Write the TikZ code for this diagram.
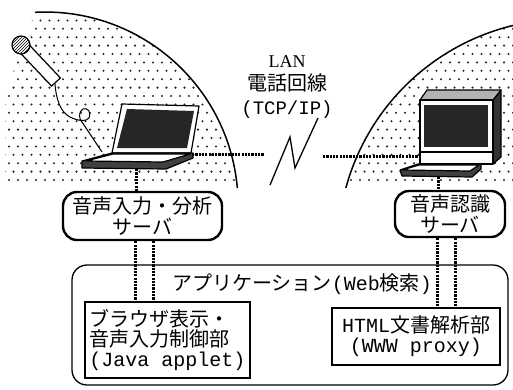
\documentclass[tikz,border=0pt]{standalone}
\usepackage{fontspec}
\setmainfont{Liberation Serif}
\setmonofont{Liberation Mono}
\newfontfamily\jpfont{Noto Sans CJK JP}
\usetikzlibrary{patterns}
\begin{document}
\begin{tikzpicture}[x=1pt,y=-1pt,
  dotline/.style={line width=3pt, dash pattern=on 2.2pt off 1.1pt},
  server/.style={draw, line width=2.4pt, rounded corners=14pt, fill=white,
    align=center, inner sep=0pt, font=\jpfont\fontsize{20}{21}\selectfont},
  module/.style={draw, line width=1.4pt, fill=white, inner sep=0pt,
    align=left, font=\fontsize{20}{20}\selectfont},
  frame/.style={draw, line width=1.3pt, rounded corners=15pt, inner sep=0pt},
  shell/.style={line width=1.2pt, line join=round},
  screen/.style={fill=black!85},
  slab/.style={fill=black!75},
  rim/.style={line width=1.5pt}
]
\useasboundingbox (0,0) rectangle (513,389);
\clip (0,0) rectangle (513,389);

% screen-tone areas (rooms of the two machines)
\begin{scope}
  \clip (5,183) -- (5,95) -- (35,12.3) arc[start angle=-93, end angle=-6.5, radius=193] -- cycle
        (520,23.9) arc[start angle=-101.8, end angle=-163.5, radius=229] -- (520,183) -- cycle;
  \foreach \r in {0,...,21} {
    \foreach \c in {0,...,58} {
      \fill[black!85] ({\c*9+mod(\r,2)*4.5}, {12+\r*8.4}) circle[radius=1.15];
    }
  }
\end{scope}
\draw[rim] (35,12.3) arc[start angle=-93, end angle=-5.05, radius=193];
\draw[rim] (520,23.9) arc[start angle=-101.8, end angle=-164.8, radius=229];

% microphone with cord
\draw[line width=1pt] (55,84) .. controls (56,98) and (60,112) .. (70,117)
  .. controls (78,121) and (86,122) .. (89,118)
  .. controls (92,112) and (87,107) .. (83,109)
  .. controls (78,112) and (79,119) .. (82,122) -- (102,152);
\filldraw[shell, fill=white] (26.4,41.9) -- (60.4,77.9) -- (51.6,86.1) -- (17.6,50.1) -- cycle;
\fill[white] (21,45) circle[radius=9];
\draw[shell, pattern=north east lines] (21,45) circle[radius=9];

% notebook computer
\filldraw[shell, fill=white] (122,104) -- (199,106) -- (191,153) -- (112,153) -- cycle;
\fill[screen] (127,109) -- (194,111) -- (187,148) -- (117,148) -- cycle;
\filldraw[shell, slab] (82,161) -- (112,153) -- (193,153) -- (193,158) -- (166,169) -- (82,168) -- cycle;
\filldraw[shell, fill=white] (86,161) -- (113,154) -- (190,154) -- (163,162) -- cycle;

% desktop computer
\filldraw[shell, fill=black!80] (493,100) -- (501,90) -- (501,157) -- (493,164) -- cycle;
\filldraw[shell, fill=black!30] (420,100) -- (427,90) -- (501,90) -- (493,100) -- cycle;
\filldraw[shell, fill=white] (420,100) rectangle (493,152);
\fill[screen] (424,105) rectangle (488,147);
\filldraw[shell, fill=white] (420,152) rectangle (493,164);
\filldraw[shell, slab] (400,170) -- (418,164) -- (481,164) -- (481,169) -- (472,177) -- (402,176) -- cycle;
\filldraw[shell, fill=white] (402,170) -- (419,165) -- (479,165) -- (470,171) -- cycle;

% network label and line symbol
\node[font=\fontsize{18}{18}\selectfont] (lan) at (287,62) {LAN};
\node[font=\jpfont\fontsize{20}{20}\selectfont] (phone) at (287,83) {電話回線};
\node[font=\ttfamily\fontsize{19}{19}\selectfont] (proto) at (287,110) {(TCP/IP)};
\draw[line width=1.3pt, line join=miter] (270,185) -- (290,137) -- (295,168) -- (318,118);

% servers, application frame and its modules
\node[frame, minimum width=436pt, minimum height=120pt] (app) at (290,325) {};
\node[font=\fontsize{20}{20}\selectfont] (applabel) at (302,284)
  {{\jpfont アプリケーション}{\ttfamily(Web}{\jpfont 検索}{\ttfamily)}};
\node[server, minimum width=159pt, minimum height=48pt] (srvL) at (142.5,216)
  {音声入力・分析\\サーバ};
\node[server, minimum width=110pt, minimum height=46pt] (srvR) at (450,214)
  {音声認識\\サーバ};
\node[module, minimum width=165pt, minimum height=76pt] (boxL) at (167.5,340)
  {{\jpfont ブラウザ表示・}\\{\jpfont 音声入力制御部}\\{\ttfamily (Java applet)}};
\node[module, minimum width=168pt, minimum height=57pt, align=center] (boxR) at (416,336.5)
  {{\ttfamily HTML}{\jpfont 文書解析部}\\{\ttfamily (WWW proxy)}};

% connection points
\coordinate (lapR) at (192,154);
\coordinate (lapB) at (136,169);
\coordinate (linkL) at (264,154);
\coordinate (linkR) at (323,156);
\coordinate (deskL) at (420,156);
\coordinate (deskB) at (438,177);
\coordinate (xl1) at (135,0);
\coordinate (xl2) at (153,0);
\coordinate (xr1) at (437,0);
\coordinate (xr2) at (455,0);

% dotted connections
\draw[dotline] (lapR) -- (linkL);
\draw[dotline] (linkR) -- (deskL);
\draw[dotline] (lapB) -- (lapB |- srvL.north);
\draw[dotline] (deskB) -- (deskB |- srvR.north);
\draw[dotline] (srvL.south -| xl1) -- (boxL.north -| xl1);
\draw[dotline] (srvL.south -| xl2) -- (boxL.north -| xl2);
\draw[dotline] (srvR.south -| xr1) -- (boxR.north -| xr1);
\draw[dotline] (srvR.south -| xr2) -- (boxR.north -| xr2);
\end{tikzpicture}
\end{document}
